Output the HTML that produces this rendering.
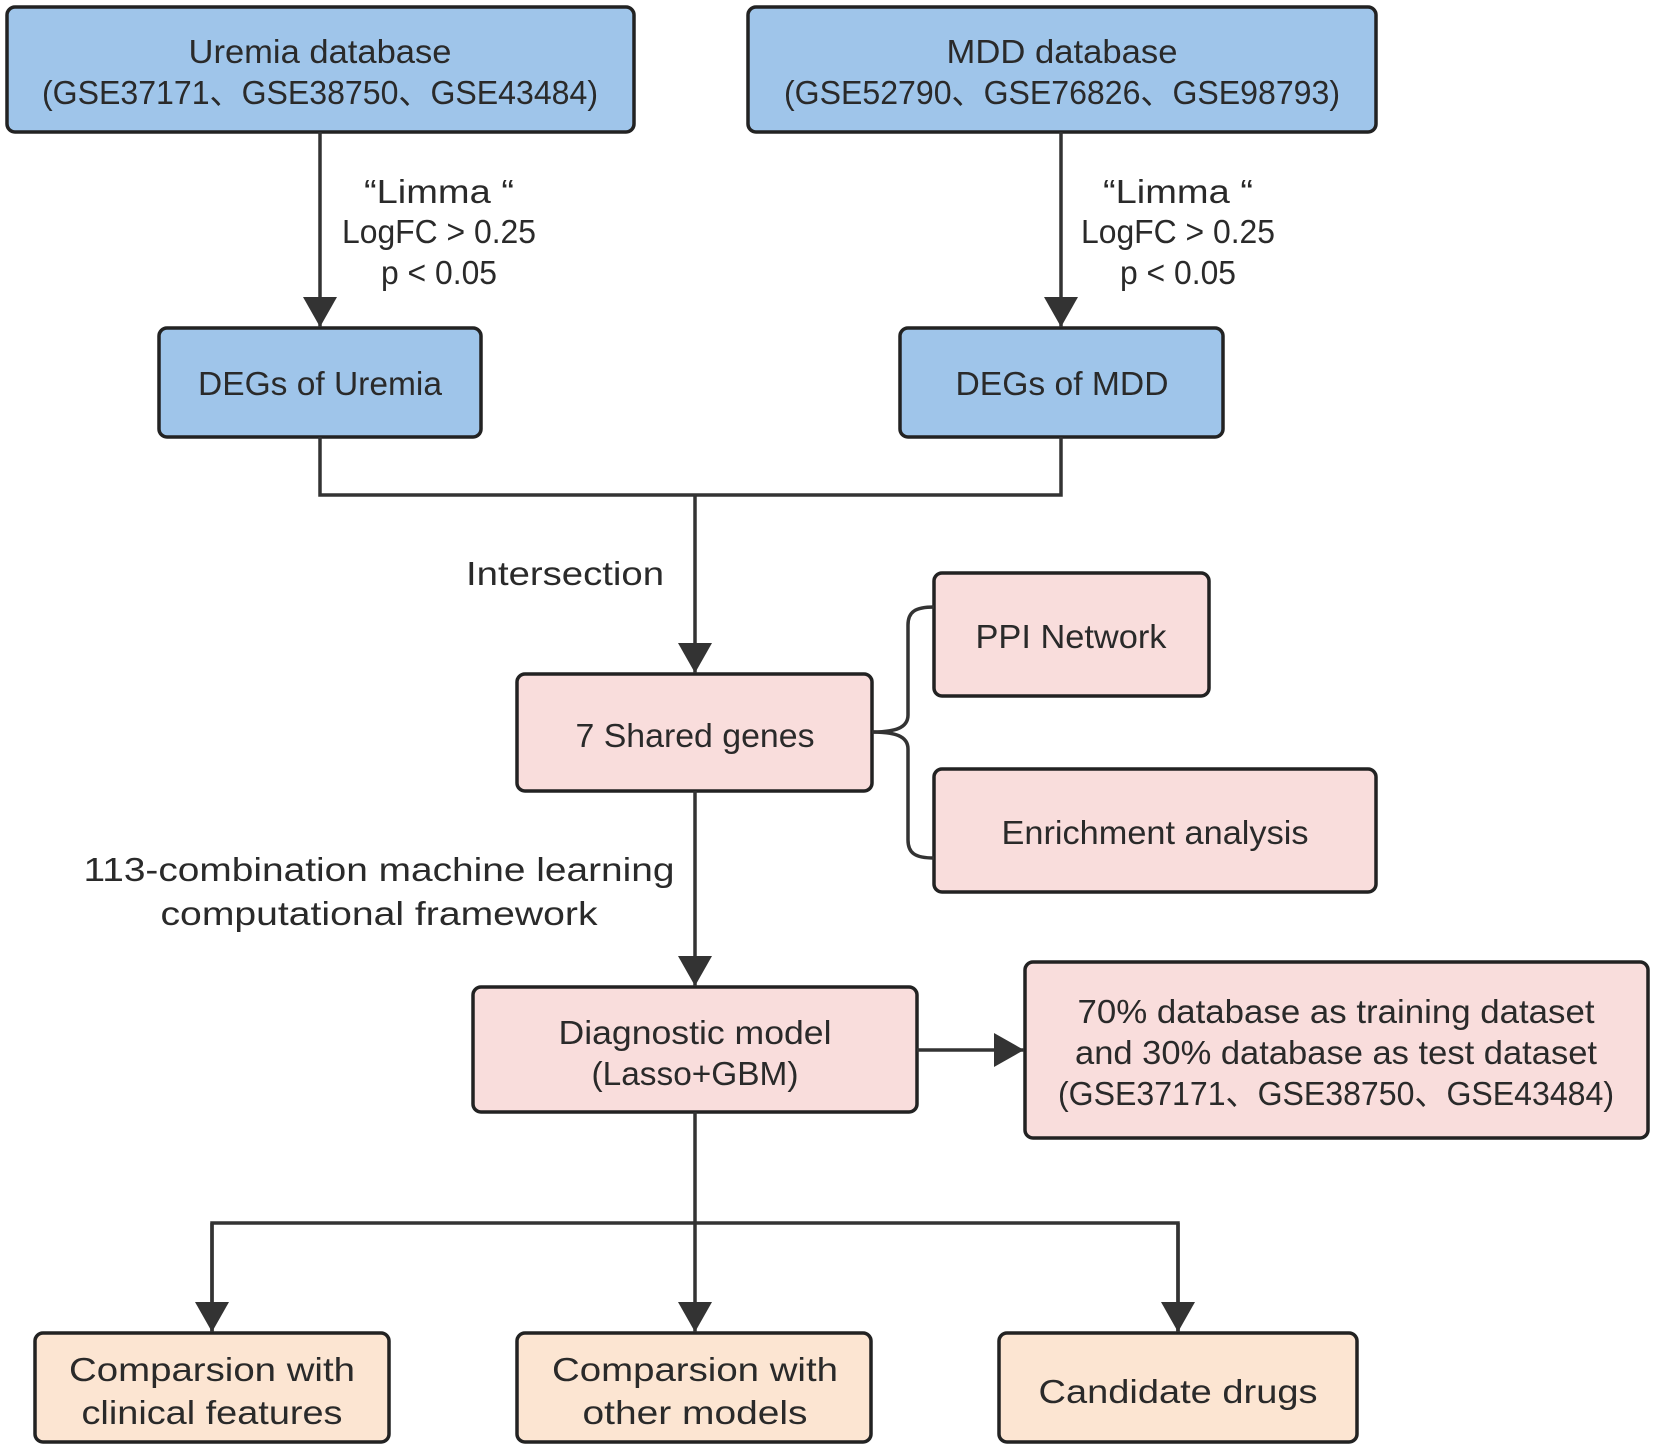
<!DOCTYPE html>
<html><head><meta charset="utf-8"><style>
html,body{margin:0;padding:0;background:#fff}
svg text{font-family:"Liberation Sans","Noto Sans CJK SC",sans-serif;font-size:33px;fill:#2a2a2a;text-anchor:middle}
</style></head><body>
<svg width="1654" height="1448" viewBox="0 0 1654 1448" xmlns="http://www.w3.org/2000/svg">
<defs>
<marker id="b" markerWidth="30" markerHeight="34" refX="30" refY="17" orient="auto" markerUnits="userSpaceOnUse"><path d="M0,0 L30,17 L0,34 z" fill="#333"/></marker></defs>
<g stroke="#222" stroke-width="3.5">
<rect x="7" y="7" width="627" height="125" rx="8" fill="#9fc5ea"/>
<rect x="748" y="7" width="628" height="125" rx="8" fill="#9fc5ea"/>
<rect x="159" y="328" width="322" height="109" rx="8" fill="#9fc5ea"/>
<rect x="900" y="328" width="323" height="109" rx="8" fill="#9fc5ea"/>
<rect x="517" y="674" width="355" height="117" rx="8" fill="#f9dddc"/>
<rect x="934" y="573" width="275" height="123" rx="8" fill="#f9dddc"/>
<rect x="934" y="769" width="442" height="123" rx="8" fill="#f9dddc"/>
<rect x="473" y="987" width="444" height="125" rx="8" fill="#f9dddc"/>
<rect x="1025" y="962" width="623" height="176" rx="8" fill="#f9dddc"/>
<rect x="35" y="1333" width="354" height="109" rx="8" fill="#fce5d2"/>
<rect x="517" y="1333" width="354" height="109" rx="8" fill="#fce5d2"/>
<rect x="999" y="1333" width="358" height="109" rx="8" fill="#fce5d2"/>
</g>
<g stroke="#333" stroke-width="3.5" fill="none">
<line x1="320" y1="132" x2="320" y2="327" marker-end="url(#b)"/>
<line x1="1061" y1="132" x2="1061" y2="327" marker-end="url(#b)"/>
<polyline points="320,437 320,495 1061,495 1061,437"/>
<line x1="695" y1="495" x2="695" y2="673" marker-end="url(#b)"/>
<path d="M872,732 C895,732 908,728 908,715 L908,625 C908,612 915,607 934,607"/>
<path d="M872,732 C895,732 908,736 908,749 L908,840 C908,853 915,858 934,858"/>
<line x1="695" y1="791" x2="695" y2="986" marker-end="url(#b)"/>
<line x1="917" y1="1050" x2="1024" y2="1050" marker-end="url(#b)"/>
<line x1="695" y1="1112" x2="695" y2="1332" marker-end="url(#b)"/>
<polyline points="212,1332 212,1223 1178,1223 1178,1332"/>
<line x1="212" y1="1223" x2="212" y2="1332" marker-end="url(#b)"/>
<line x1="1178" y1="1223" x2="1178" y2="1332" marker-end="url(#b)"/>
</g>
<g lengthAdjust="spacingAndGlyphs">
<text x="320" y="63" textLength="263" lengthAdjust="spacingAndGlyphs">Uremia database</text>
<text x="320" y="104" textLength="556" lengthAdjust="spacingAndGlyphs">(GSE37171、GSE38750、GSE43484)</text>
<text x="1062" y="63" textLength="231" lengthAdjust="spacingAndGlyphs">MDD database</text>
<text x="1062" y="104" textLength="556" lengthAdjust="spacingAndGlyphs">(GSE52790、GSE76826、GSE98793)</text>
<text x="439" y="203" textLength="150" lengthAdjust="spacingAndGlyphs">“Limma “</text>
<text x="439" y="243" textLength="194" lengthAdjust="spacingAndGlyphs">LogFC &gt; 0.25</text>
<text x="439" y="284" textLength="116" lengthAdjust="spacingAndGlyphs">p &lt; 0.05</text>
<text x="1178" y="203" textLength="150" lengthAdjust="spacingAndGlyphs">“Limma “</text>
<text x="1178" y="243" textLength="194" lengthAdjust="spacingAndGlyphs">LogFC &gt; 0.25</text>
<text x="1178" y="284" textLength="116" lengthAdjust="spacingAndGlyphs">p &lt; 0.05</text>
<text x="320" y="395" textLength="244" lengthAdjust="spacingAndGlyphs">DEGs of Uremia</text>
<text x="1062" y="395" textLength="213" lengthAdjust="spacingAndGlyphs">DEGs of MDD</text>
<text x="565" y="585" textLength="198" lengthAdjust="spacingAndGlyphs">Intersection</text>
<text x="695" y="747" textLength="239" lengthAdjust="spacingAndGlyphs">7 Shared genes</text>
<text x="1071" y="648" textLength="191" lengthAdjust="spacingAndGlyphs">PPI Network</text>
<text x="1155" y="844" textLength="307" lengthAdjust="spacingAndGlyphs">Enrichment analysis</text>
<text x="379" y="881" textLength="591" lengthAdjust="spacingAndGlyphs">113-combination machine learning</text>
<text x="379" y="925" textLength="437" lengthAdjust="spacingAndGlyphs">computational framework</text>
<text x="695" y="1044" textLength="273" lengthAdjust="spacingAndGlyphs">Diagnostic model</text>
<text x="695" y="1085" textLength="207" lengthAdjust="spacingAndGlyphs">(Lasso+GBM)</text>
<text x="1336" y="1023" textLength="517" lengthAdjust="spacingAndGlyphs">70% database as training dataset</text>
<text x="1336" y="1064" textLength="522" lengthAdjust="spacingAndGlyphs">and 30% database as test dataset</text>
<text x="1336" y="1105" textLength="556" lengthAdjust="spacingAndGlyphs">(GSE37171、GSE38750、GSE43484)</text>
<text x="212" y="1381" textLength="286" lengthAdjust="spacingAndGlyphs">Comparsion with</text>
<text x="212" y="1424" textLength="261" lengthAdjust="spacingAndGlyphs">clinical features</text>
<text x="695" y="1381" textLength="286" lengthAdjust="spacingAndGlyphs">Comparsion with</text>
<text x="695" y="1424" textLength="225" lengthAdjust="spacingAndGlyphs">other models</text>
<text x="1178" y="1403" textLength="279" lengthAdjust="spacingAndGlyphs">Candidate drugs</text>
</g>
</svg>
</body></html>
